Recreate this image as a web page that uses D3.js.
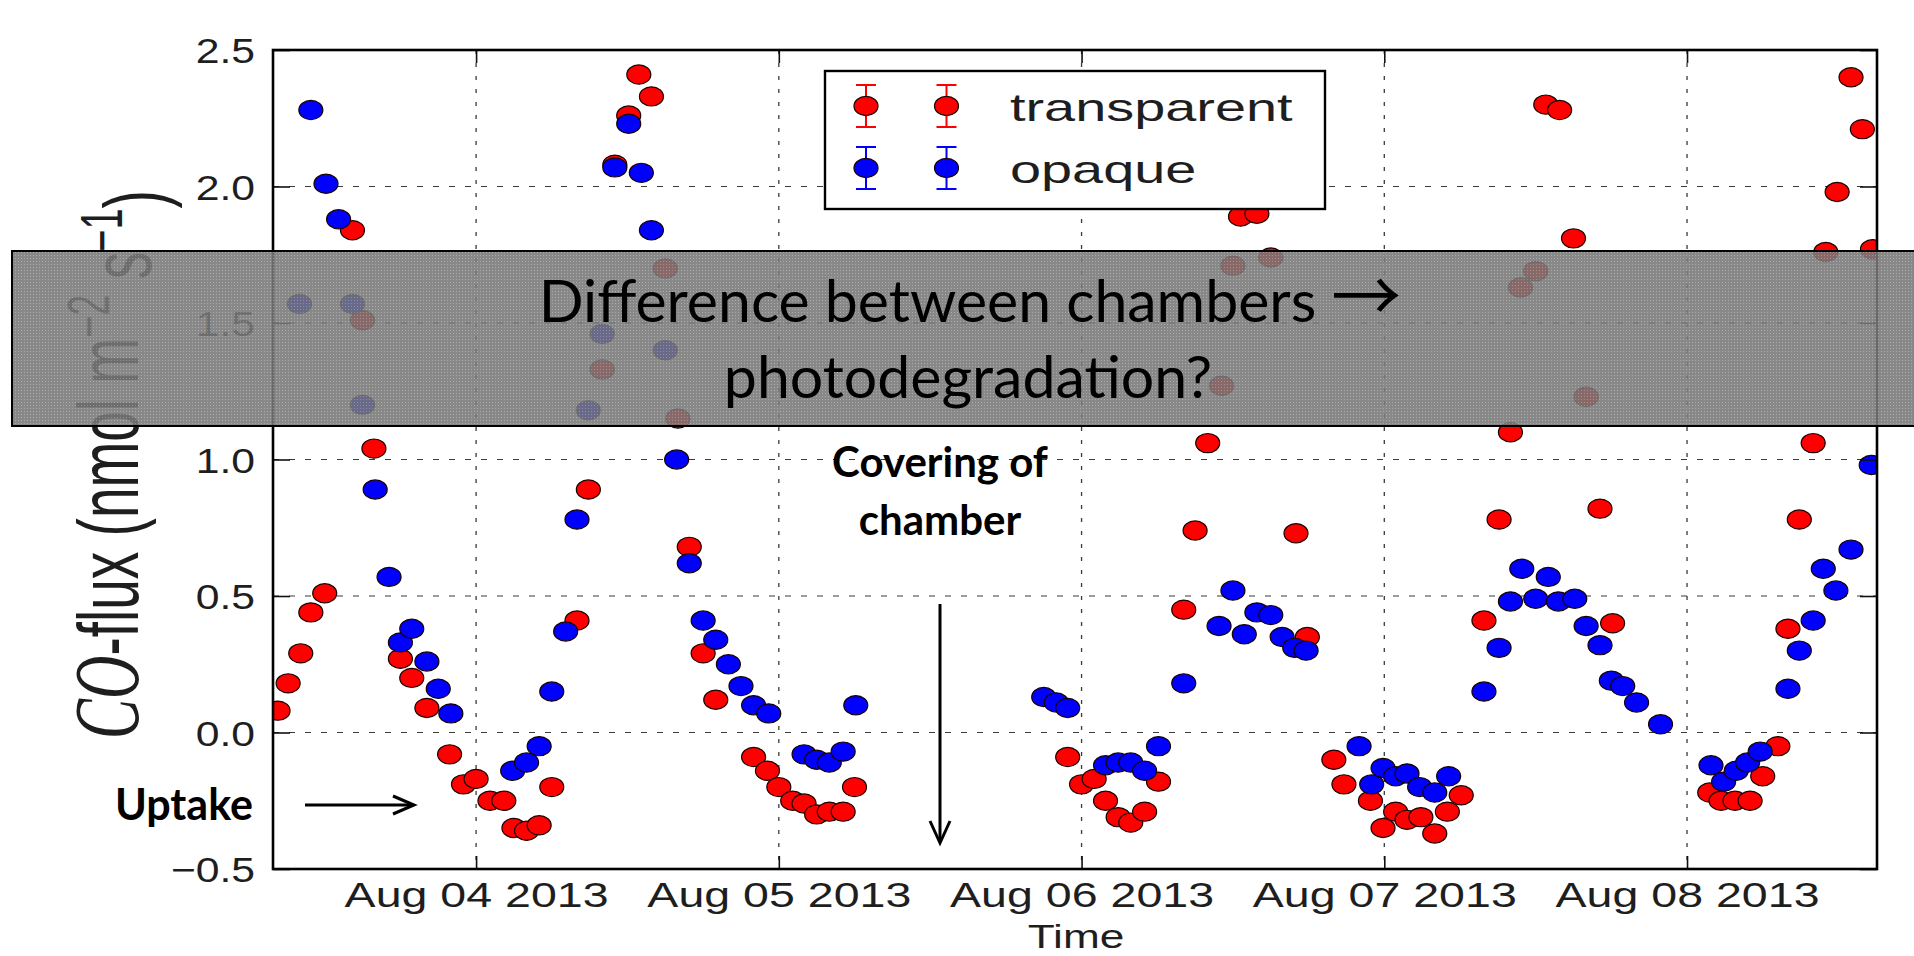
<!DOCTYPE html>
<html>
<head>
<meta charset="utf-8">
<script src="https://cdn.jsdelivr.net/npm/d3@7"></script>
<style>
  html, body { margin: 0; padding: 0; background: #ffffff; }
  svg { display: block; }
</style>
</head>
<body>
<svg id="chart" width="1914" height="956"></svg>
<script>
// ---- data: CO flux (nmol m-2 s-1), time as hours since 2013-08-04 00:00 ----
const seriesNames = ["transparent", "opaque"];
const seriesColors = ["#ff0000", "#0000ff"];

const transparentHours = [
  -15.7, -14.9, -13.9, -13.1, -12.0, -9.8, -9.0, -8.1, -6.0, -5.1, -3.9, -2.1, -1.0, 0.0,
  1.1, 2.2, 3.0, 4.0, 5.0, 6.0, 8.0, 8.9, 10.0, 11.0, 12.1, 12.9, 13.9, 15.0, 16.0, 16.9,
  18.0, 19.0, 22.0, 23.1, 24.0, 25.1, 26.0, 27.0, 28.0, 29.1, 30.0,
  46.9, 48.0, 49.0, 49.9, 50.9, 51.9, 53.0, 54.1, 56.1, 57.0, 58.0, 59.1, 60.0, 60.6,
  61.9, 63.0, 65.0, 65.9,
  68.0, 68.8, 70.9, 71.9, 72.9, 73.8, 74.9, 76.0, 77.0, 78.1, 79.9, 81.1, 82.0, 82.8,
  84.0, 84.8, 85.9, 87.0, 88.0, 89.1, 90.1,
  97.8, 98.7, 99.8, 101.0, 102.0, 103.2, 104.0, 104.9, 106.0, 107.0, 107.9, 109.0, 109.9, 110.7
];
const transparentFlux = [
  0.08, 0.18, 0.29, 0.44, 0.51, 1.84, 1.51, 1.04, 0.27, 0.20, 0.09, -0.08, -0.19, -0.17,
  -0.25, -0.25, -0.35, -0.36, -0.34, -0.20, 0.41, 0.89, 1.33, 2.08, 2.26, 2.41, 2.33, 1.70, 1.15, 0.68,
  0.29, 0.12, -0.09, -0.14, -0.20, -0.25, -0.26, -0.30, -0.29, -0.29, -0.20,
  -0.09, -0.19, -0.17, -0.25, -0.31, -0.33, -0.29, -0.18, 0.45, 0.74, 1.06, 1.27, 1.71, 1.89,
  1.90, 1.74, 0.73, 0.35,
  -0.10, -0.19, -0.25, -0.35, -0.29, -0.32, -0.31, -0.37, -0.29, -0.23, 0.41, 0.78, 1.10, 1.63,
  1.69, 2.30, 2.28, 1.81, 1.23, 0.82, 0.40,
  -0.22, -0.25, -0.25, -0.25, -0.16, -0.05, 0.38, 0.78, 1.06, 1.76, 1.98, 2.40, 2.21, 1.77
];

const opaqueHours = [
  -14.0, -13.1, -11.9, -10.9, -9.8, -9.0, -8.0, -6.9, -6.0, -5.1, -3.9, -3.0, -2.0,
  2.9, 4.0, 5.0, 6.0, 7.1, 8.0, 8.9, 10.0, 11.0, 12.1, 13.1, 13.9, 15.0, 15.9, 16.9,
  18.0, 19.0, 20.0, 21.0, 22.0, 23.2, 26.0, 27.0, 28.0, 29.1, 30.1,
  45.0, 46.0, 46.9, 49.9, 50.9, 51.9, 53.0, 54.1, 56.1, 58.9, 60.0, 60.9, 61.9, 63.0,
  63.9, 64.9, 65.8,
  70.0, 71.0, 71.9, 72.9, 73.8, 74.8, 76.0, 77.1, 79.9, 81.1, 82.0, 82.9, 84.0, 85.0,
  85.8, 87.1, 88.0, 89.1, 90.0, 90.9, 92.0, 93.9,
  97.9, 98.9, 99.9, 100.8, 101.8, 104.0, 104.9, 106.0, 106.8, 107.8, 109.0, 110.6
];
const opaqueFlux = [
  1.57, 2.28, 2.01, 1.88, 1.57, 1.20, 0.89, 0.57, 0.33, 0.38, 0.26, 0.16, 0.07,
  -0.14, -0.11, -0.05, 0.15, 0.37, 0.78, 1.18, 1.46, 2.07, 2.23, 2.05, 1.84, 1.40, 1.00, 0.62,
  0.41, 0.34, 0.25, 0.17, 0.10, 0.07, -0.08, -0.10, -0.11, -0.07, 0.10,
  0.13, 0.11, 0.09, -0.12, -0.11, -0.11, -0.14, -0.05, 0.18, 0.39, 0.52, 0.36, 0.44, 0.43,
  0.35, 0.31, 0.30,
  -0.05, -0.19, -0.13, -0.16, -0.15, -0.20, -0.22, -0.16, 0.15, 0.31, 0.48, 0.60, 0.49, 0.57,
  0.48, 0.49, 0.39, 0.32, 0.19, 0.17, 0.11, 0.03,
  -0.12, -0.18, -0.14, -0.11, -0.07, 0.16, 0.30, 0.41, 0.60, 0.52, 0.67, 0.98
];

const dayTicks = ["2013-08-04", "2013-08-05", "2013-08-06", "2013-08-07", "2013-08-08"];
const yTicks = [-0.5, 0.0, 0.5, 1.0, 1.5, 2.0, 2.5];
const xDomainHours = [-16.1, 111.06];
const yDomain = [-0.5, 2.5];

// ---- layout ----
const svg = d3.select("#chart");
const W = 1914, H = 956;
const m = { left: 273, top: 50, right: 1914 - 1877, bottom: 956 - 869 };
const pw = W - m.left - m.right, ph = H - m.top - m.bottom;

const t0 = new Date(2013, 7, 4, 0, 0, 0);
const toDate = h => new Date(t0.getTime() + h * 3600e3);
const parseDay = d3.timeParse("%Y-%m-%d");

const x = d3.scaleTime().domain(xDomainHours.map(toDate)).range([0, pw]);
const y = d3.scaleLinear().domain(yDomain).range([ph, 0]);

const g = svg.append("g").attr("transform", `translate(${m.left},${m.top})`);

const defs = svg.append("defs");
defs.append("clipPath").attr("id", "plotClip")
  .append("rect").attr("x", 0).attr("y", 0).attr("width", pw).attr("height", ph);

// grid
const grid = g.append("g").attr("class", "grid");
grid.selectAll("line.vg").data(dayTicks.map(parseDay)).join("line")
  .attr("class", "vg")
  .attr("x1", d => x(d)).attr("x2", d => x(d))
  .attr("y1", 0).attr("y2", ph)
  .attr("stroke", "#3a3a3a").attr("stroke-width", 1.3)
  .attr("stroke-dasharray", "4,9");
grid.selectAll("line.hg").data(yTicks.slice(1, -1)).join("line")
  .attr("class", "hg")
  .attr("x1", 0).attr("x2", pw)
  .attr("y1", d => y(d)).attr("y2", d => y(d))
  .attr("stroke", "#3a3a3a").attr("stroke-width", 1.1)
  .attr("stroke-dasharray", "6,10");

// markers
const series = [
  { name: seriesNames[0], color: seriesColors[0], hours: transparentHours, flux: transparentFlux },
  { name: seriesNames[1], color: seriesColors[1], hours: opaqueHours, flux: opaqueFlux }
];
const mrx = 12, mry = 9.6;
const marks = g.append("g").attr("clip-path", "url(#plotClip)");
series.forEach(s => {
  const pts = s.hours.map((h, i) => ({ t: toDate(h), v: s.flux[i] }));
  marks.append("g").selectAll("ellipse").data(pts).join("ellipse")
    .attr("cx", d => x(d.t)).attr("cy", d => y(d.v))
    .attr("rx", mrx).attr("ry", mry)
    .attr("fill", s.color)
    .attr("stroke", "#1a0000").attr("stroke-width", 1.2);
});

// axes: ticks point inward on all four sides
const fmtDay = d3.timeFormat("%b %d %Y");
const xAxis = d3.axisBottom(x).tickValues(dayTicks.map(parseDay))
  .tickSizeInner(-13).tickSizeOuter(0).tickFormat(fmtDay);
const xAxisTop = d3.axisTop(x).tickValues(dayTicks.map(parseDay))
  .tickSizeInner(-13).tickSizeOuter(0).tickFormat("");
const yFmt = v => (v < 0 ? "\u2212" : "") + Math.abs(v).toFixed(1);
const yAxis = d3.axisLeft(y).tickValues(yTicks).tickSizeInner(-17).tickSizeOuter(0).tickFormat(yFmt);
const yAxisRight = d3.axisRight(y).tickValues(yTicks).tickSizeInner(-17).tickSizeOuter(0).tickFormat("");

const gx = g.append("g").attr("transform", `translate(0,${ph})`).call(xAxis);
g.append("g").call(xAxisTop);
const gy = g.append("g").call(yAxis);
g.append("g").attr("transform", `translate(${pw},0)`).call(yAxisRight);

g.selectAll(".domain").remove();
g.selectAll(".tick line").attr("stroke", "#111").attr("stroke-width", 1.6);

gx.selectAll(".tick text")
  .attr("y", null).attr("dy", null)
  .attr("transform", "translate(0,38) scale(1.33,1)")
  .attr("font-family", "Liberation Sans, Arial, sans-serif")
  .attr("font-size", 35).attr("fill", "#1e1e1e");

gy.selectAll(".tick text")
  .attr("x", null).attr("dy", "0.36em")
  .attr("transform", "translate(-18,0) scale(1.22,1)")
  .attr("font-family", "Liberation Sans, Arial, sans-serif")
  .attr("font-size", 35).attr("fill", "#1e1e1e");

// frame
g.append("rect").attr("x", 0).attr("y", 0).attr("width", pw).attr("height", ph)
  .attr("fill", "none").attr("stroke", "#000").attr("stroke-width", 2.6);

// axis labels
svg.append("text")
  .attr("transform", `translate(${m.left + pw / 2 + 1},948) scale(1.3,1)`)
  .attr("text-anchor", "middle")
  .attr("font-family", "Liberation Sans, Arial, sans-serif")
  .attr("font-size", 34).attr("fill", "#1e1e1e")
  .text("Time");

const yl = svg.append("text")
  .attr("transform", `translate(138,${m.top + ph / 2 + 5}) rotate(-90) scale(1,1.55)`)
  .attr("text-anchor", "middle")
  .attr("font-family", "Liberation Sans, Arial, sans-serif")
  .attr("font-size", 55).attr("fill", "#1e1e1e");
yl.append("tspan").attr("font-family", "Liberation Serif, DejaVu Serif, serif")
  .attr("font-style", "italic").attr("font-size", 60).text("CO");
yl.append("tspan").text("-flux (nmol m");
yl.append("tspan").attr("font-size", 38).attr("dy", "-0.5em").text("\u22122");
yl.append("tspan").attr("dy", "0.5em").text(" s");
yl.append("tspan").attr("font-size", 38).attr("dy", "-0.5em").text("\u22121");
yl.append("tspan").attr("dy", "0.5em").text(")");

// legend
const lg = svg.append("g");
lg.append("rect").attr("x", 825).attr("y", 71).attr("width", 500).attr("height", 138)
  .attr("fill", "#fff").attr("stroke", "#000").attr("stroke-width", 2.4);
const legendRows = [106, 168];
series.forEach((s, i) => {
  const cy = legendRows[i];
  [866, 946.5].forEach(cx => {
    lg.append("line").attr("x1", cx).attr("x2", cx).attr("y1", cy - 21).attr("y2", cy + 21)
      .attr("stroke", s.color).attr("stroke-width", 2);
    lg.append("line").attr("x1", cx - 10).attr("x2", cx + 10).attr("y1", cy - 21).attr("y2", cy - 21)
      .attr("stroke", s.color).attr("stroke-width", 2);
    lg.append("line").attr("x1", cx - 10).attr("x2", cx + 10).attr("y1", cy + 21).attr("y2", cy + 21)
      .attr("stroke", s.color).attr("stroke-width", 2);
    lg.append("ellipse").attr("cx", cx).attr("cy", cy).attr("rx", mrx).attr("ry", mry)
      .attr("fill", s.color).attr("stroke", "#1a0000").attr("stroke-width", 1.2);
  });
  lg.append("text")
    .attr("transform", `translate(1010,${cy + 15}) scale(1.47,1)`)
    .attr("font-family", "Liberation Sans, Arial, sans-serif")
    .attr("font-size", 38).attr("fill", "#1e1e1e")
    .text(s.name);
});

// annotation banner
const pat = defs.append("pattern").attr("id", "stipple")
  .attr("width", 3).attr("height", 3).attr("patternUnits", "userSpaceOnUse");
pat.append("rect").attr("width", 3).attr("height", 3).attr("fill", "#787878");
pat.append("rect").attr("width", 1).attr("height", 1).attr("fill", "#a0a0a0");

svg.append("rect").attr("x", 12).attr("y", 251).attr("width", 1920).attr("height", 175)
  .attr("fill", "url(#stipple)").attr("fill-opacity", 0.88)
  .attr("stroke", "#000").attr("stroke-width", 2);

const bannerFont = "Lato, 'Open Sans', sans-serif";
const b1 = svg.append("text").attr("x", 970).attr("y", 322).attr("text-anchor", "middle")
  .attr("font-family", bannerFont).attr("font-size", 59).attr("fill", "#000");
b1.append("tspan").text("Difference between chambers ");
b1.append("tspan").attr("font-family", "'Noto Sans CJK JP', 'DejaVu Sans', sans-serif")
  .attr("font-size", 70).text("\u2192");
svg.append("text").attr("x", 968).attr("y", 398).attr("text-anchor", "middle")
  .attr("font-family", bannerFont).attr("font-size", 59).attr("fill", "#000")
  .text("photodegradation?");

// bold callouts with arrows
const callFont = "Lato, 'Open Sans', sans-serif";
svg.append("text").attr("x", 115).attr("y", 820)
  .attr("font-family", callFont).attr("font-weight", 700).attr("font-size", 43).attr("fill", "#000")
  .text("Uptake");
svg.append("text").attr("x", 940).attr("y", 477).attr("text-anchor", "middle")
  .attr("font-family", callFont).attr("font-weight", 700).attr("font-size", 42).attr("fill", "#000")
  .text("Covering of");
svg.append("text").attr("x", 940).attr("y", 535).attr("text-anchor", "middle")
  .attr("font-family", callFont).attr("font-weight", 700).attr("font-size", 42).attr("fill", "#000")
  .text("chamber");

const arrows = svg.append("g").attr("stroke", "#000").attr("fill", "none")
  .attr("stroke-width", 3).attr("stroke-linecap", "butt");
arrows.append("line").attr("x1", 305).attr("y1", 805).attr("x2", 413).attr("y2", 805);
arrows.append("path").attr("d", "M393,796 L414,805 L393,814");
arrows.append("line").attr("x1", 940).attr("y1", 604).attr("x2", 940).attr("y2", 841);
arrows.append("path").attr("d", "M930,821 L940,843 L950,821");
</script>
</body>
</html>
